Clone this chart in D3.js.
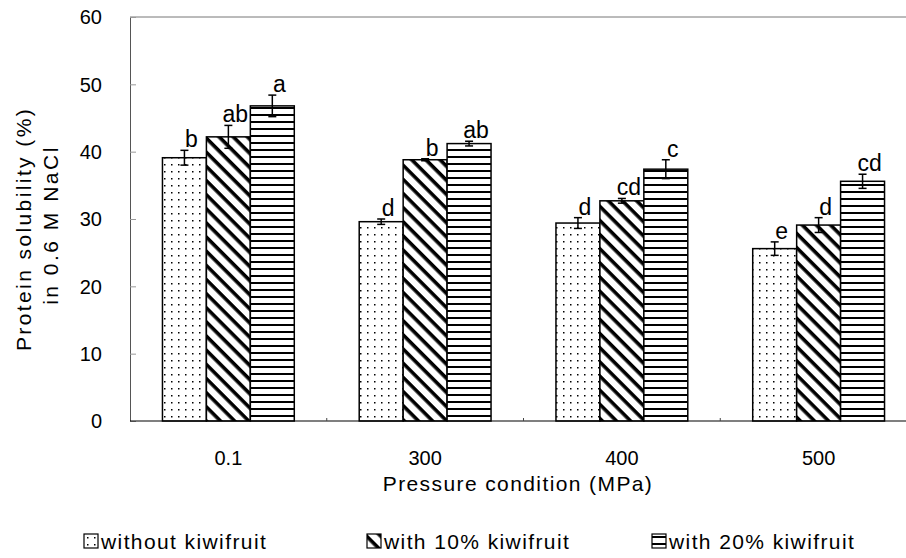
<!DOCTYPE html>
<html>
<head>
<meta charset="utf-8">
<script src="https://cdn.jsdelivr.net/npm/d3@7"></script>
<style>
    body { margin: 0; background: #fff; }
    svg { display: block; font-family: "Liberation Sans", Arial, sans-serif; }
</style>
</head>
<body>
<script>
(function(){

    var categories = ["0.1", "300", "400", "500"];
    var seriesNames = ["without kiwifruit", "with 10% kiwifruit", "with 20% kiwifruit"];

    var withoutVals = [39.1, 29.6, 29.4, 25.6],
        with10Vals = [42.2, 38.8, 32.7, 29.1],
        with20Vals = [46.8, 41.2, 37.4, 35.6];

    var withoutErr = [1.1, 0.4, 0.8, 1.0],
        with10Err = [1.7, 0.15, 0.35, 1.1],
        with20Err = [1.6, 0.35, 1.4, 1.05];

    var withoutLetters = ["b", "d", "d", "e"],
        with10Letters = ["ab", "b", "cd", "d"],
        with20Letters = ["a", "ab", "c", "cd"];

    var yTicks = [0, 10, 20, 30, 40, 50, 60];

    var patternIds = ["pDots", "pDiag", "pHoriz"];

    window.onload = setChart();

    function setChart(){
        var width = 906,
            height = 558;

        var left = 130, right = 917, top = 17, bottom = 421;

        var svg = d3.select("body")
            .append("svg")
            .attr("width", width)
            .attr("height", height);

        makePatterns(svg);

        var x0 = d3.scaleBand()
            .domain(categories)
            .range([left, right])
            .paddingInner(0.33)
            .paddingOuter(0.165);

        var x1 = d3.scaleBand()
            .domain(seriesNames)
            .range([0, x0.bandwidth()]);

        var y = d3.scaleLinear()
            .domain([0, 60])
            .range([bottom, top]);

        //build rows for the bars from the arrays
        var vals = [withoutVals, with10Vals, with20Vals],
            errs = [withoutErr, with10Err, with20Err],
            letters = [withoutLetters, with10Letters, with20Letters];

        var rows = [];
        categories.forEach(function(c, i){
            seriesNames.forEach(function(s, j){
                rows.push({cat: c, series: s, idx: j, value: vals[j][i], err: errs[j][i], letter: letters[j][i]});
            });
        });

        //plot frame
        svg.append("line")
            .attr("x1", left).attr("x2", right)
            .attr("y1", top).attr("y2", top)
            .attr("stroke", "#777").attr("stroke-width", 1);

        var yAxis = svg.append("g")
            .attr("transform", "translate(" + left + ",0)")
            .call(d3.axisRight(y).tickValues(yTicks).tickSize(6).tickFormat(""));
        yAxis.select(".domain").attr("stroke", "#555");
        yAxis.selectAll(".tick line").attr("stroke", "#999");

        svg.selectAll(".ylab")
            .data(yTicks)
            .enter()
            .append("text")
            .attr("class", "ylab")
            .attr("x", 102)
            .attr("y", function(d){ return y(d); })
            .attr("dy", "0.36em")
            .attr("text-anchor", "end")
            .style("font-size", "20px")
            .text(function(d){ return d; });

        //bars
        svg.selectAll(".bar")
            .data(rows)
            .enter()
            .append("rect")
            .attr("class", "bar")
            .attr("x", function(d){ return x0(d.cat) + x1(d.series); })
            .attr("y", function(d){ return y(d.value); })
            .attr("width", x1.bandwidth())
            .attr("height", function(d){ return y(0) - y(d.value); })
            .attr("fill", function(d){ return "url(#" + patternIds[d.idx] + ")"; })
            .attr("stroke", "#000")
            .attr("stroke-width", 1.5);

        //error bars
        var eb = svg.selectAll(".err")
            .data(rows)
            .enter()
            .append("g")
            .attr("class", "err")
            .attr("stroke", "#000")
            .attr("stroke-width", 1.5);

        eb.append("line")
            .attr("x1", function(d){ return x0(d.cat) + x1(d.series) + x1.bandwidth() / 2; })
            .attr("x2", function(d){ return x0(d.cat) + x1(d.series) + x1.bandwidth() / 2; })
            .attr("y1", function(d){ return y(d.value - d.err); })
            .attr("y2", function(d){ return y(d.value + d.err); });

        [-1, 1].forEach(function(s){
            eb.append("line")
                .attr("x1", function(d){ return x0(d.cat) + x1(d.series) + x1.bandwidth() / 2 - 4; })
                .attr("x2", function(d){ return x0(d.cat) + x1(d.series) + x1.bandwidth() / 2 + 4; })
                .attr("y1", function(d){ return y(d.value + s * d.err); })
                .attr("y2", function(d){ return y(d.value + s * d.err); });
        });

        //significance letters
        svg.selectAll(".sig")
            .data(rows)
            .enter()
            .append("text")
            .attr("class", "sig")
            .attr("x", function(d){ return x0(d.cat) + x1(d.series) + x1.bandwidth() / 2 + 7; })
            .attr("y", function(d){ return y(d.value + d.err) - 3; })
            .attr("text-anchor", "middle")
            .style("font-size", "23px")
            .text(function(d){ return d.letter; });

        //x axis
        svg.append("line")
            .attr("x1", left).attr("x2", right)
            .attr("y1", bottom).attr("y2", bottom)
            .attr("stroke", "#000").attr("stroke-width", 1.2);

        svg.selectAll(".sep")
            .data(categories.slice(1))
            .enter()
            .append("line")
            .attr("class", "sep")
            .attr("x1", function(d){ return x0(d) - x0.step() * 0.33 / 2; })
            .attr("x2", function(d){ return x0(d) - x0.step() * 0.33 / 2; })
            .attr("y1", bottom).attr("y2", bottom - 3)
            .attr("stroke", "#444");

        svg.selectAll(".xlab")
            .data(categories)
            .enter()
            .append("text")
            .attr("class", "xlab")
            .attr("x", function(d){ return x0(d) + x0.bandwidth() / 2; })
            .attr("y", 465)
            .attr("text-anchor", "middle")
            .style("font-size", "20px")
            .text(function(d){ return d; });

        svg.append("text")
            .attr("x", 518)
            .attr("y", 491)
            .attr("text-anchor", "middle")
            .style("font-size", "21px")
            .style("letter-spacing", "1.4px")
            .text("Pressure condition (MPa)");

        svg.append("text")
            .attr("transform", "translate(31,229) rotate(-90)")
            .attr("text-anchor", "middle")
            .style("font-size", "21px")
            .style("letter-spacing", "2.4px")
            .text("Protein solubility (%)");

        svg.append("text")
            .attr("transform", "translate(58,225) rotate(-90)")
            .attr("text-anchor", "middle")
            .style("font-size", "21px")
            .style("letter-spacing", "2.5px")
            .text("in 0.6 M NaCl");

        setLegend(svg);
    };

    function makePatterns(svg){
        var defs = svg.append("defs");

        var dots = defs.append("pattern")
            .attr("id", "pDots")
            .attr("patternUnits", "userSpaceOnUse")
            .attr("width", 7).attr("height", 7);
        dots.append("rect").attr("width", 7).attr("height", 7).attr("fill", "#fff");
        dots.append("rect").attr("x", 3).attr("y", 3).attr("width", 1.5).attr("height", 1.5).attr("fill", "#000");

        var diag = defs.append("pattern")
            .attr("id", "pDiag")
            .attr("patternUnits", "userSpaceOnUse")
            .attr("width", 10).attr("height", 10)
            .attr("patternTransform", "rotate(45)");
        diag.append("rect").attr("width", 10).attr("height", 10).attr("fill", "#fff");
        diag.append("rect").attr("y", 0).attr("width", 10).attr("height", 3.6).attr("fill", "#000");

        var horiz = defs.append("pattern")
            .attr("id", "pHoriz")
            .attr("patternUnits", "userSpaceOnUse")
            .attr("width", 7).attr("height", 7);
        horiz.append("rect").attr("width", 7).attr("height", 7).attr("fill", "#fff");
        horiz.append("rect").attr("y", 2).attr("width", 7).attr("height", 2).attr("fill", "#000");
    };

    function setLegend(svg){
        var legendX = [84, 367, 652];

        var item = svg.selectAll(".legend")
            .data(seriesNames)
            .enter()
            .append("g")
            .attr("class", "legend")
            .attr("transform", function(d, i){ return "translate(" + legendX[i] + ",534)"; });

        item.append("rect")
            .attr("width", 14).attr("height", 14)
            .attr("fill", function(d, i){ return "url(#" + patternIds[i] + ")"; })
            .attr("stroke", "#000")
            .attr("stroke-width", 1.2);

        item.append("text")
            .attr("x", 17)
            .attr("y", 15)
            .style("font-size", "21px")
            .style("letter-spacing", "1.4px")
            .text(function(d){ return d; });
    };

})()
</script>
</body>
</html>
